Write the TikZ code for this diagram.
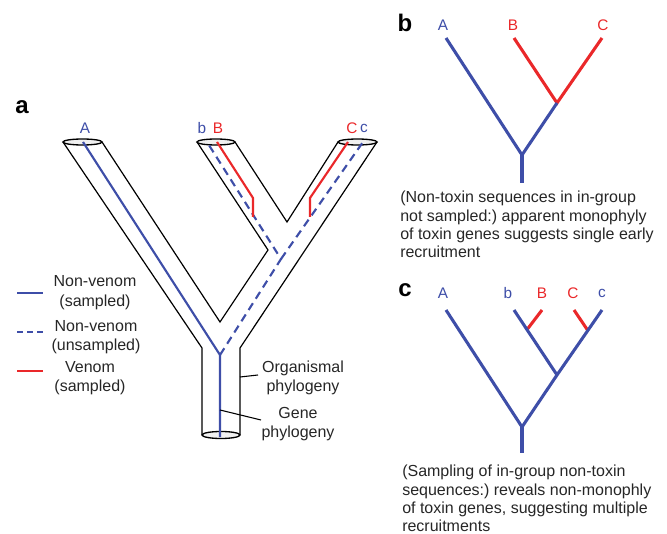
\documentclass[tikz,border=0pt]{standalone}
\usepackage{fontspec}
\setmainfont{Liberation Sans}
\definecolor{gblue}{RGB}{62,78,168}
\definecolor{gred}{RGB}{234,40,42}
\frenchspacing
\begin{document}
\begin{tikzpicture}[x=0.75pt,y=-0.75pt,
 tube/.style={draw=black,line width=0.9pt,line join=miter},
 rim/.style={draw=black,line width=1pt,fill=gray!12},
 gsolid/.style={gblue,line width=1.6pt},
 gdash/.style={gblue,line width=1.6pt,dash pattern=on 6pt off 4pt},
 gven/.style={gred,line width=1.6pt},
 tb/.style={gblue,line width=2.3pt},
 tr/.style={gred,line width=2.3pt},
 lab/.style={font=\fontsize{11.5}{13.8}\selectfont, inner sep=0pt},
 bl/.style={lab,text=gblue}, rl/.style={lab,text=gred},
 panel/.style={font=\fontsize{18}{20}\selectfont\bfseries, inner sep=0pt},
 body/.style={font=\fontsize{12}{13.8}\selectfont, inner sep=0pt, align=left, text=black!85},
 leg/.style={font=\fontsize{12}{14.5}\selectfont, inner sep=0pt, align=center, text=black!85},
 ptr/.style={black,line width=0.8pt}]
\useasboundingbox (0,0) rectangle (667,534);

% ---------- panel a ----------
\node[panel] (pa) at (22,107) {a};
% tube outline
\draw[tube] (102,142) -- (220,322) -- (268,250) -- (197,142);
\draw[tube] (235,142) -- (287,222) -- (338,142);
\draw[tube] (377,142) -- (240,348) -- (240,435);
\draw[tube] (202,435) -- (202,348) -- (63,142);
\draw[rim] (82.5,142) ellipse [x radius=19.5, y radius=3];
\draw[rim] (216,142) ellipse [x radius=19, y radius=3];
\draw[rim] (357.5,142) ellipse [x radius=19.5, y radius=3];
\draw[rim] (221,435) ellipse [x radius=19, y radius=3.5];
% gene tree coordinates
\coordinate (aA) at (83,142);
\coordinate (aJ) at (220,355);
\coordinate (aR) at (220,437);
\coordinate (aV) at (281,259);
\coordinate (ab) at (207,142);
\coordinate (ac) at (363,142);
\coordinate (aB) at (217,142);
\coordinate (aBk) at (253,198);
\coordinate (aBe) at (253,217);
\coordinate (aC) at (348,142);
\coordinate (aCk) at (310,198);
\coordinate (aCe) at (310,217);
\draw[gdash] (aJ) -- (aV) -- (ab);
\draw[gdash] (aV) -- (ac);
\draw[gsolid] (aA) -- (aJ) -- (aR);
\draw[gven] (aB) -- (aBk) -- (aBe);
\draw[gven] (aC) -- (aCk) -- (aCe);
\node[bl] (lA) at (85,128) {A};
\node[bl] (lb) at (202,128) {b};
\node[rl] (lB) at (218,128) {B};
\node[rl] (lC) at (352,128) {C};
\node[bl] (lc) at (364,128) {c};
% pointers
\node[leg] (org) at (303,378) {Organismal\\phylogeny};
\node[leg] (gen) at (298,424) {Gene\\phylogeny};
\coordinate (po) at (240,377);
\coordinate (pg) at (220,410);
\draw[ptr] (po) -- (258,375);
\draw[ptr] (pg) -- (261,420);
% legend
\coordinate (l1a) at (17,293); \coordinate (l1b) at (43,293);
\coordinate (l2a) at (17,332); \coordinate (l2b) at (43,332);
\coordinate (l3a) at (17,371); \coordinate (l3b) at (43,371);
\draw[gsolid] (l1a) -- (l1b);
\draw[gblue,line width=1.6pt,dash pattern=on 4.5pt off 3pt] (l2a) -- (l2b);
\draw[gven] (l3a) -- (l3b);
\node[leg] (t1) at (95,292.5) {Non-venom\\(sampled)};
\node[leg] (t2) at (96,337) {Non-venom\\(unsampled)};
\node[leg] (t3) at (90,378) {Venom\\(sampled)};

% ---------- panel b ----------
\node[panel] (pb) at (405,23) {b};
\coordinate (bA) at (446,38);
\coordinate (bR) at (522,155);
\coordinate (bT) at (522,183);
\coordinate (bJ) at (557,103);
\coordinate (bB) at (514,38);
\coordinate (bC) at (602,38);
\draw[tr] (bB) -- (bJ) -- (bC);
\draw[tb] (bA) -- (bR) -- (bJ);
\draw[tb] (bR) -- (bT);
\node[bl] (blA) at (443,25) {A};
\node[rl] (blB) at (513,25) {B};
\node[rl] (blC) at (603,25) {C};
\node[body,anchor=west] (btext) at (400,224.5) {(Non-toxin sequences in in-group\\not sampled:) apparent monophyly\\of toxin genes suggests single early\\recruitment};

% ---------- panel c ----------
\node[panel] (pc) at (405,290) {c};
\coordinate (cA) at (446,310);
\coordinate (cR) at (522,427);
\coordinate (cT) at (522,453);
\coordinate (cJ) at (557,375);
\coordinate (cb) at (514,310);
\coordinate (cc) at (602,310);
\coordinate (cBj) at (527.5,329);
\coordinate (cB) at (542,310);
\coordinate (cCj) at (587.5,330);
\coordinate (cC) at (574,310);
\draw[tr] (cBj) -- (cB);
\draw[tr] (cCj) -- (cC);
\draw[tb] (cA) -- (cR) -- (cJ) -- (cc);
\draw[tb] (cJ) -- (cb);
\draw[tb] (cR) -- (cT);
\node[bl] (clA) at (443,293) {A};
\node[bl] (clb) at (508,293) {b};
\node[rl] (clB) at (542,293) {B};
\node[rl] (clC) at (573,293) {C};
\node[bl] (clc) at (602,293) {c};
\node[body,anchor=west] (ctext) at (402,498.5) {(Sampling of in-group non-toxin\\sequences:) reveals non-monophly\\of toxin genes, suggesting multiple\\recruitments};
\end{tikzpicture}
\end{document}
